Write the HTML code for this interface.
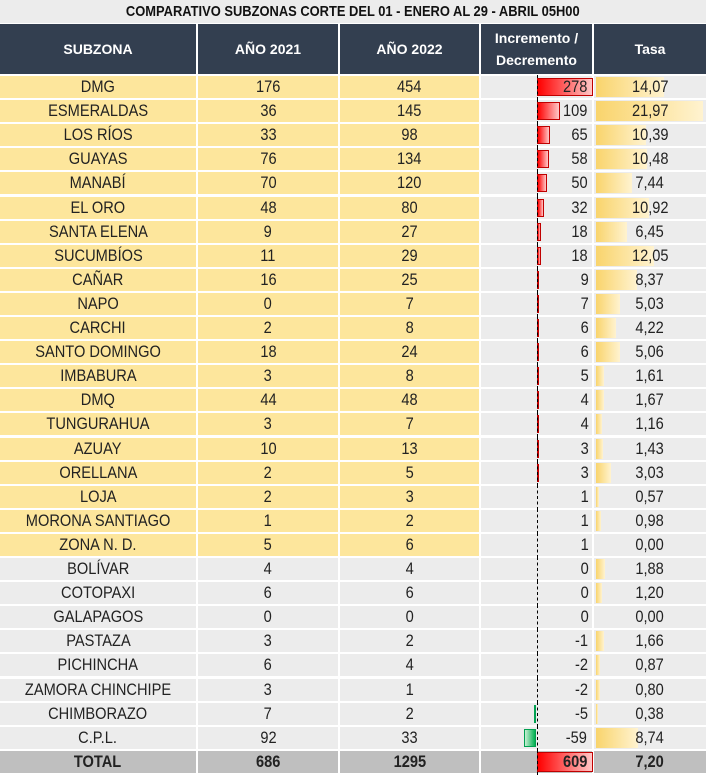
<!DOCTYPE html>
<html><head><meta charset="utf-8"><style>
*{margin:0;padding:0;box-sizing:border-box}
body{width:706px;height:776px;background:#fff;font-family:"Liberation Sans",Arial,sans-serif;overflow:hidden;position:relative}
.t{position:absolute;left:0;top:0;width:706px;height:23px;background:#ececec;text-align:center;font-weight:bold;font-size:15px;line-height:23px;color:#111}
.t span,.c span{display:inline-block;transform:scaleX(.86)}
.r{position:absolute;left:0;width:706px;display:flex}
.c{height:100%;border-right:2px solid #fff;border-bottom:2px solid #fff;text-align:center;font-size:17px;color:#222;position:relative;white-space:nowrap}
.c1{width:198px}.c2{width:142px}.c3{width:141px}.c4{width:113px;background:#ececec}.c5{width:112px;background:#ececec;border-right:0}
.h .c{background:#333f50;color:#fff;font-weight:bold;font-size:14px;display:flex;align-items:center;justify-content:center;line-height:22px}
.y .c1,.y .c2,.y .c3{background:#fde69c}
.g .c1,.g .c2,.g .c3{background:#ececec}
.ax{position:absolute;left:56px;top:-1px;bottom:-2px;border-left:1px dashed #000}
.p{position:absolute;left:56px;top:2px;bottom:2px;background:linear-gradient(90deg,#ff0000,#ffc8c8);border:1px solid #c00000}
.n{position:absolute;right:56px;top:2px;bottom:2px;background:linear-gradient(90deg,#c8efd4,#00b050);border:1px solid #00a050}
.v{position:absolute;right:3px;top:0}
.b{position:absolute;left:2px;top:1px;bottom:1px;background:linear-gradient(90deg,#f9d46c,#fff3d0)}
.tv{position:relative}
.tot .c{background:#bfbfbf;font-weight:bold}
</style></head><body>
<div class="t"><span>COMPARATIVO SUBZONAS CORTE DEL 01 - ENERO AL 29 - ABRIL 05H00</span></div>
<div class="r h" style="top:24px;height:52px"><div class="c c1">SUBZONA</div><div class="c c2">AÑO 2021</div><div class="c c3">AÑO 2022</div><div class="c c4">Incremento /<br>Decremento</div><div class="c c5">Tasa</div></div>

<div class="r y" style="top:76px;height:24.1px;line-height:22px"><div class="c c1"><span>DMG</span></div><div class="c c2"><span>176</span></div><div class="c c3"><span>454</span></div><div class="c c4"><div class="p" style="width:56px"></div><div class="ax"></div><span class="v">278</span></div><div class="c c5"><div class="b" style="width:68px"></div><span class="tv">14,07</span></div></div>
<div class="r y" style="top:100.1px;height:24.1px;line-height:22px"><div class="c c1"><span>ESMERALDAS</span></div><div class="c c2"><span>36</span></div><div class="c c3"><span>145</span></div><div class="c c4"><div class="p" style="width:23px"></div><div class="ax"></div><span class="v">109</span></div><div class="c c5"><div class="b" style="width:107px"></div><span class="tv">21,97</span></div></div>
<div class="r y" style="top:124.2px;height:24.1px;line-height:22px"><div class="c c1"><span>LOS RÍOS</span></div><div class="c c2"><span>33</span></div><div class="c c3"><span>98</span></div><div class="c c4"><div class="p" style="width:13px"></div><div class="ax"></div><span class="v">65</span></div><div class="c c5"><div class="b" style="width:50px"></div><span class="tv">10,39</span></div></div>
<div class="r y" style="top:148.3px;height:24.1px;line-height:22px"><div class="c c1"><span>GUAYAS</span></div><div class="c c2"><span>76</span></div><div class="c c3"><span>134</span></div><div class="c c4"><div class="p" style="width:12px"></div><div class="ax"></div><span class="v">58</span></div><div class="c c5"><div class="b" style="width:51px"></div><span class="tv">10,48</span></div></div>
<div class="r y" style="top:172.4px;height:24.1px;line-height:22px"><div class="c c1"><span>MANABÍ</span></div><div class="c c2"><span>70</span></div><div class="c c3"><span>120</span></div><div class="c c4"><div class="p" style="width:10px"></div><div class="ax"></div><span class="v">50</span></div><div class="c c5"><div class="b" style="width:36px"></div><span class="tv">7,44</span></div></div>
<div class="r y" style="top:196.5px;height:24.1px;line-height:22px"><div class="c c1"><span>EL ORO</span></div><div class="c c2"><span>48</span></div><div class="c c3"><span>80</span></div><div class="c c4"><div class="p" style="width:7px"></div><div class="ax"></div><span class="v">32</span></div><div class="c c5"><div class="b" style="width:53px"></div><span class="tv">10,92</span></div></div>
<div class="r y" style="top:220.6px;height:24.1px;line-height:22px"><div class="c c1"><span>SANTA ELENA</span></div><div class="c c2"><span>9</span></div><div class="c c3"><span>27</span></div><div class="c c4"><div class="p" style="width:4px"></div><div class="ax"></div><span class="v">18</span></div><div class="c c5"><div class="b" style="width:31px"></div><span class="tv">6,45</span></div></div>
<div class="r y" style="top:244.7px;height:24.1px;line-height:22px"><div class="c c1"><span>SUCUMBÍOS</span></div><div class="c c2"><span>11</span></div><div class="c c3"><span>29</span></div><div class="c c4"><div class="p" style="width:4px"></div><div class="ax"></div><span class="v">18</span></div><div class="c c5"><div class="b" style="width:58px"></div><span class="tv">12,05</span></div></div>
<div class="r y" style="top:268.8px;height:24.1px;line-height:22px"><div class="c c1"><span>CAÑAR</span></div><div class="c c2"><span>16</span></div><div class="c c3"><span>25</span></div><div class="c c4"><div class="p" style="width:2px"></div><div class="ax"></div><span class="v">9</span></div><div class="c c5"><div class="b" style="width:41px"></div><span class="tv">8,37</span></div></div>
<div class="r y" style="top:292.9px;height:24.1px;line-height:22px"><div class="c c1"><span>NAPO</span></div><div class="c c2"><span>0</span></div><div class="c c3"><span>7</span></div><div class="c c4"><div class="p" style="width:2px"></div><div class="ax"></div><span class="v">7</span></div><div class="c c5"><div class="b" style="width:24px"></div><span class="tv">5,03</span></div></div>
<div class="r y" style="top:317px;height:24.1px;line-height:22px"><div class="c c1"><span>CARCHI</span></div><div class="c c2"><span>2</span></div><div class="c c3"><span>8</span></div><div class="c c4"><div class="p" style="width:2px"></div><div class="ax"></div><span class="v">6</span></div><div class="c c5"><div class="b" style="width:20px"></div><span class="tv">4,22</span></div></div>
<div class="r y" style="top:341.1px;height:24.1px;line-height:22px"><div class="c c1"><span>SANTO DOMINGO</span></div><div class="c c2"><span>18</span></div><div class="c c3"><span>24</span></div><div class="c c4"><div class="p" style="width:2px"></div><div class="ax"></div><span class="v">6</span></div><div class="c c5"><div class="b" style="width:24px"></div><span class="tv">5,06</span></div></div>
<div class="r y" style="top:365.2px;height:24.1px;line-height:22px"><div class="c c1"><span>IMBABURA</span></div><div class="c c2"><span>3</span></div><div class="c c3"><span>8</span></div><div class="c c4"><div class="p" style="width:1px"></div><div class="ax"></div><span class="v">5</span></div><div class="c c5"><div class="b" style="width:8px"></div><span class="tv">1,61</span></div></div>
<div class="r y" style="top:389.3px;height:24.1px;line-height:22px"><div class="c c1"><span>DMQ</span></div><div class="c c2"><span>44</span></div><div class="c c3"><span>48</span></div><div class="c c4"><div class="p" style="width:1px"></div><div class="ax"></div><span class="v">4</span></div><div class="c c5"><div class="b" style="width:8px"></div><span class="tv">1,67</span></div></div>
<div class="r y" style="top:413.4px;height:24.1px;line-height:22px"><div class="c c1"><span>TUNGURAHUA</span></div><div class="c c2"><span>3</span></div><div class="c c3"><span>7</span></div><div class="c c4"><div class="p" style="width:1px"></div><div class="ax"></div><span class="v">4</span></div><div class="c c5"><div class="b" style="width:6px"></div><span class="tv">1,16</span></div></div>
<div class="r y" style="top:437.5px;height:24.1px;line-height:22px"><div class="c c1"><span>AZUAY</span></div><div class="c c2"><span>10</span></div><div class="c c3"><span>13</span></div><div class="c c4"><div class="p" style="width:1px"></div><div class="ax"></div><span class="v">3</span></div><div class="c c5"><div class="b" style="width:7px"></div><span class="tv">1,43</span></div></div>
<div class="r y" style="top:461.6px;height:24.1px;line-height:22px"><div class="c c1"><span>ORELLANA</span></div><div class="c c2"><span>2</span></div><div class="c c3"><span>5</span></div><div class="c c4"><div class="p" style="width:1px"></div><div class="ax"></div><span class="v">3</span></div><div class="c c5"><div class="b" style="width:15px"></div><span class="tv">3,03</span></div></div>
<div class="r y" style="top:485.7px;height:24.1px;line-height:22px"><div class="c c1"><span>LOJA</span></div><div class="c c2"><span>2</span></div><div class="c c3"><span>3</span></div><div class="c c4"><div class="ax"></div><span class="v">1</span></div><div class="c c5"><div class="b" style="width:3px"></div><span class="tv">0,57</span></div></div>
<div class="r y" style="top:509.8px;height:24.1px;line-height:22px"><div class="c c1"><span>MORONA SANTIAGO</span></div><div class="c c2"><span>1</span></div><div class="c c3"><span>2</span></div><div class="c c4"><div class="ax"></div><span class="v">1</span></div><div class="c c5"><div class="b" style="width:5px"></div><span class="tv">0,98</span></div></div>
<div class="r y" style="top:533.9px;height:24.1px;line-height:22px"><div class="c c1"><span>ZONA N. D.</span></div><div class="c c2"><span>5</span></div><div class="c c3"><span>6</span></div><div class="c c4"><div class="ax"></div><span class="v">1</span></div><div class="c c5"><span class="tv">0,00</span></div></div>
<div class="r g" style="top:558px;height:24.1px;line-height:22px"><div class="c c1"><span>BOLÍVAR</span></div><div class="c c2"><span>4</span></div><div class="c c3"><span>4</span></div><div class="c c4"><div class="ax"></div><span class="v">0</span></div><div class="c c5"><div class="b" style="width:9px"></div><span class="tv">1,88</span></div></div>
<div class="r g" style="top:582.1px;height:24.1px;line-height:22px"><div class="c c1"><span>COTOPAXI</span></div><div class="c c2"><span>6</span></div><div class="c c3"><span>6</span></div><div class="c c4"><div class="ax"></div><span class="v">0</span></div><div class="c c5"><div class="b" style="width:6px"></div><span class="tv">1,20</span></div></div>
<div class="r g" style="top:606.2px;height:24.1px;line-height:22px"><div class="c c1"><span>GALAPAGOS</span></div><div class="c c2"><span>0</span></div><div class="c c3"><span>0</span></div><div class="c c4"><div class="ax"></div><span class="v">0</span></div><div class="c c5"><span class="tv">0,00</span></div></div>
<div class="r g" style="top:630.3px;height:24.1px;line-height:22px"><div class="c c1"><span>PASTAZA</span></div><div class="c c2"><span>3</span></div><div class="c c3"><span>2</span></div><div class="c c4"><div class="ax"></div><span class="v">-1</span></div><div class="c c5"><div class="b" style="width:8px"></div><span class="tv">1,66</span></div></div>
<div class="r g" style="top:654.4px;height:24.1px;line-height:22px"><div class="c c1"><span>PICHINCHA</span></div><div class="c c2"><span>6</span></div><div class="c c3"><span>4</span></div><div class="c c4"><div class="ax"></div><span class="v">-2</span></div><div class="c c5"><div class="b" style="width:4px"></div><span class="tv">0,87</span></div></div>
<div class="r g" style="top:678.5px;height:24.1px;line-height:22px"><div class="c c1"><span>ZAMORA CHINCHIPE</span></div><div class="c c2"><span>3</span></div><div class="c c3"><span>1</span></div><div class="c c4"><div class="ax"></div><span class="v">-2</span></div><div class="c c5"><div class="b" style="width:4px"></div><span class="tv">0,80</span></div></div>
<div class="r g" style="top:702.6px;height:24.1px;line-height:22px"><div class="c c1"><span>CHIMBORAZO</span></div><div class="c c2"><span>7</span></div><div class="c c3"><span>2</span></div><div class="c c4"><div class="n" style="width:1px"></div><div class="ax"></div><span class="v">-5</span></div><div class="c c5"><div class="b" style="width:2px"></div><span class="tv">0,38</span></div></div>
<div class="r g" style="top:726.7px;height:24.1px;line-height:22px"><div class="c c1"><span>C.P.L.</span></div><div class="c c2"><span>92</span></div><div class="c c3"><span>33</span></div><div class="c c4"><div class="n" style="width:12px"></div><div class="ax"></div><span class="v">-59</span></div><div class="c c5"><div class="b" style="width:42px"></div><span class="tv">8,74</span></div></div>
<div class="r tot" style="top:750.8px;height:24.1px;line-height:22px"><div class="c c1"><span>TOTAL</span></div><div class="c c2"><span>686</span></div><div class="c c3"><span>1295</span></div><div class="c c4" style="background:#bfbfbf"><div class="p" style="width:56px;top:1px;bottom:1px"></div><div class="ax"></div><span class="v">609</span></div><div class="c c5" style="background:#bfbfbf"><span class="tv">7,20</span></div></div>
</body></html>
